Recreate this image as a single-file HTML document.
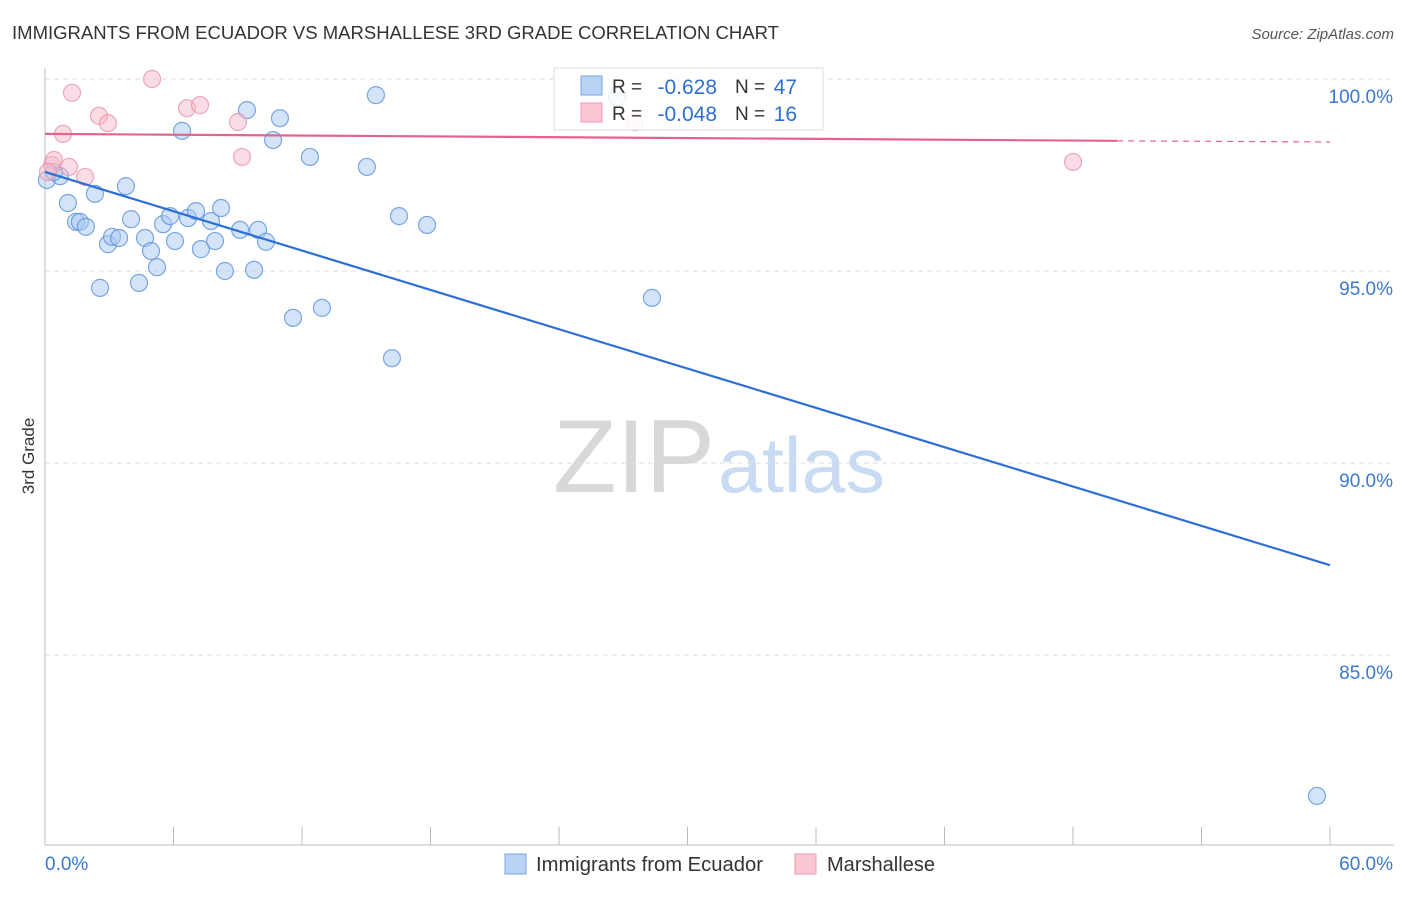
<!DOCTYPE html>
<html><head><meta charset="utf-8"><style>
body{margin:0;background:#fff;font-family:"Liberation Sans",sans-serif;}
svg text{font-family:"Liberation Sans",sans-serif;}
</style></head><body>
<svg id="chart" width="1406" height="892">
<text x="12" y="39" font-size="18" fill="#333" textLength="767" lengthAdjust="spacingAndGlyphs">IMMIGRANTS FROM ECUADOR VS MARSHALLESE 3RD GRADE CORRELATION CHART</text>
<text x="1394" y="39" font-size="15" fill="#555" font-style="italic" text-anchor="end">Source: ZipAtlas.com</text>
<text x="34" y="456" font-size="17" fill="#333" transform="rotate(-90 34 456)" text-anchor="middle">3rd Grade</text>
<g>
<text x="553" y="492" font-size="104" fill="#d8d8d8" font-family="Liberation Serif" textLength="162" lengthAdjust="spacingAndGlyphs">ZIP</text>
<text x="718" y="492" font-size="78" fill="#c8dbf2" textLength="167" lengthAdjust="spacingAndGlyphs">atlas</text>
</g>
<g id="grid"></g>
<g id="axes"></g>
<g id="marks"></g>
<g>
<rect x="554" y="68" width="269" height="62" fill="#fff" fill-opacity="0.85" stroke="#ddd"/>
<rect x="581" y="76" width="21" height="19" fill="#b8d3f4" stroke="#7aa6e0"/>
<rect x="581" y="103" width="21" height="19" fill="#f9c6d4" stroke="#ec9ab2"/>
<text x="612" y="93" font-size="19" fill="#333">R =</text>
<text x="717" y="94" font-size="21" fill="#2f6fd0" text-anchor="end">-0.628</text>
<text x="735" y="93" font-size="19" fill="#333">N =</text>
<text x="797" y="94" font-size="21" fill="#2f6fd0" text-anchor="end">47</text>
<text x="612" y="120" font-size="19" fill="#333">R =</text>
<text x="717" y="121" font-size="21" fill="#2f6fd0" text-anchor="end">-0.048</text>
<text x="735" y="120" font-size="19" fill="#333">N =</text>
<text x="797" y="121" font-size="21" fill="#2f6fd0" text-anchor="end">16</text>
</g>
<g>
<rect x="505" y="854" width="21" height="20" fill="#b8d3f4" stroke="#7aa6e0"/>
<text x="536" y="871" font-size="20" fill="#333" textLength="227" lengthAdjust="spacingAndGlyphs">Immigrants from Ecuador</text>
<rect x="795" y="854" width="21" height="20" fill="#f9c6d4" stroke="#ec9ab2"/>
<text x="827" y="871" font-size="20" fill="#333" textLength="108" lengthAdjust="spacingAndGlyphs">Marshallese</text>
</g>
</svg>
<script>
const blueX=[0.09,0.70,1.07,1.45,1.63,1.91,2.33,2.57,2.94,3.13,3.46,3.78,4.02,4.39,4.67,4.95,5.23,5.51,5.84,6.07,6.40,6.68,7.05,7.28,7.75,7.94,8.22,8.40,9.11,9.43,9.76,9.95,10.32,10.65,10.97,11.58,12.37,12.93,15.03,15.45,16.20,16.53,17.84,26.71,28.34,59.39,0.42];
const blueY=[97.37,97.47,96.77,96.28,96.28,96.15,97.01,94.56,95.70,95.89,95.86,97.21,96.35,94.69,95.86,95.52,95.10,96.22,96.43,95.78,98.65,96.38,96.56,95.57,96.30,95.78,96.64,95.00,96.07,99.19,95.03,96.07,95.76,98.41,98.98,93.78,97.97,94.04,97.71,99.58,92.73,96.43,96.20,99.53,94.30,81.33,97.58];
const pinkX=[0.33,0.42,0.84,1.12,1.26,1.87,2.52,2.94,5.00,6.63,7.24,9.01,9.20,27.55,48.0,0.14];
const pinkY=[97.76,97.89,98.57,97.71,99.64,97.45,99.04,98.85,100.0,99.24,99.32,98.88,97.97,98.88,97.84,97.58];
const blueTrend=[[0,97.58],[60,87.34]];
const pinkTrend=[[0,98.57],[50.06,98.39],[60,98.36]];
const yTicks=[100,95,90,85];
const yTickLabels=["100.0%","95.0%","90.0%","85.0%"];
const xTicks=[0,6,12,18,24,30,36,42,48,54,60];

const NS="http://www.w3.org/2000/svg";
const sx=v=>45+v*(1285/60);
const sy=v=>79+(100-v)*38.4;
function mk(tag,attrs,parent){const e=document.createElementNS(NS,tag);for(const k in attrs)e.setAttribute(k,attrs[k]);parent.appendChild(e);return e;}
const grid=document.getElementById('grid'),axes=document.getElementById('axes'),marks=document.getElementById('marks');
yTicks.forEach((t,i)=>{
 const l=mk('line',{x1:45,x2:1394,y1:sy(t),y2:sy(t),stroke:'#ddd','stroke-dasharray':'5,4'},grid);
 
 
 const tx=mk('text',{x:1393,y:sy(t)+24,'font-size':19,fill:'#3a78d4','text-anchor':'end'},axes);
 tx.textContent=yTickLabels[i];
 
 
});
let a=mk('line',{x1:45,x2:45,y1:68,y2:845,stroke:'#bbb'},axes);


a=mk('line',{x1:45,x2:1394,y1:845,y2:845,stroke:'#bbb'},axes);


xTicks.forEach(t=>{
 const l=mk('line',{x1:sx(t),x2:sx(t),y1:827,y2:845,stroke:'#bbb'},axes);
 
 
});
let t0=mk('text',{x:45,y:870,'font-size':19,fill:'#3a78d4'},axes);t0.textContent='0.0%';


let t1=mk('text',{x:1393,y:870,'font-size':19,fill:'#3a78d4','text-anchor':'end'},axes);t1.textContent='60.0%';



blueX.forEach((x,i)=>{
 const c=mk('circle',{cx:sx(x),cy:sy(blueY[i]),r:8.5,fill:'#a9c9f1','fill-opacity':0.5,stroke:'#5b92dc','stroke-opacity':0.8,'stroke-width':1.2},marks);
 
 
});
pinkX.forEach((x,i)=>{
 const c=mk('circle',{cx:sx(x),cy:sy(pinkY[i]),r:8.5,fill:'#f6b9ca','fill-opacity':0.5,stroke:'#ea94ad','stroke-opacity':0.8,'stroke-width':1.2},marks);
 
 
});
let bl=mk('line',{x1:sx(blueTrend[0][0]),y1:sy(blueTrend[0][1]),x2:sx(blueTrend[1][0]),y2:sy(blueTrend[1][1]),stroke:'#2c6fd6','stroke-width':2.2},marks);


let pl=mk('line',{x1:sx(pinkTrend[0][0]),y1:sy(pinkTrend[0][1]),x2:sx(pinkTrend[1][0]),y2:sy(pinkTrend[1][1]),stroke:'#e4638a','stroke-width':2.2},marks);


let pd=mk('line',{x1:sx(pinkTrend[1][0]),y1:sy(pinkTrend[1][1]),x2:sx(pinkTrend[2][0]),y2:sy(pinkTrend[2][1]),stroke:'#e4638a','stroke-width':1.2,'stroke-dasharray':'6,5'},marks);


</script>
</body></html>
